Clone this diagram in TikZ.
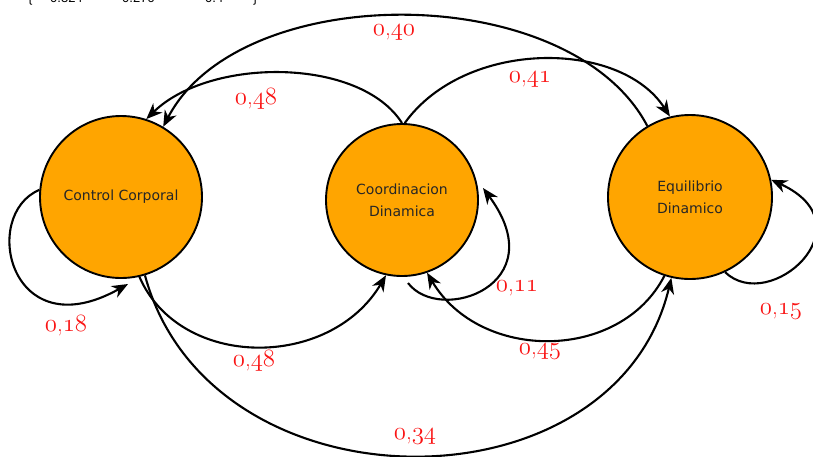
\documentclass[tikz,border=0pt]{standalone}
\usepackage{fontspec}
\usetikzlibrary{arrows.meta}
\newfontfamily\nodefont{DejaVu Sans}
\newfontfamily\topfont{Liberation Sans}
\definecolor{stateorange}{RGB}{255,165,0}
\definecolor{labelred}{RGB}{250,20,20}
\newcommand\osn[1]{$\mathnormal{#1}$}
\begin{document}
\begin{tikzpicture}[x=1pt,y=-1pt,
  state/.style={circle,draw=black,line width=1.9pt,fill=stateorange,inner sep=0pt,
    align=center,font=\nodefont\fontsize{14}{22}\selectfont,text=black!85},
  edge/.style={draw=black,line width=2.1pt,-{Stealth[length=16pt,width=13pt,inset=5pt]}},
  prob/.style={text=labelred,font=\fontsize{23}{23}\selectfont,inner sep=0pt},
  toptext/.style={font=\topfont\fontsize{13}{13}\selectfont,anchor=base west,inner sep=0pt}]
\useasboundingbox (0,0) rectangle (813,456);
\clip (0,0) rectangle (813,456);
% cropped text at the top edge
\node[toptext] (t0) at (28,2.5) {\{};
\node[toptext] (t1) at (50,2.5) {0.324};
\node[toptext] (t2) at (122,2.5) {0.276};
\node[toptext] (t3) at (205,2.5) {0.4};
\node[toptext] (t4) at (253,2.5) {\}};
% states
\node[state,minimum size=162pt] (cc) at (121,197) {Control Corporal};
\node[state,minimum size=152pt] (cd) at (402,200) {Coordinacion\\Dinamica};
\node[state,minimum size=164pt] (ed) at (690,197) {Equilibrio\\Dinamico};
% helper coordinates
\coordinate (s11) at (408,283);
\coordinate (e11) at (483,188);
\coordinate (e18) at (128,284);
% edges
\draw[edge] (ed.121) .. controls (570,-21) and (240,-21) .. (cc.59);
\draw[edge] (cd.90) .. controls (360,57) and (210,57) .. (cc.72);
\draw[edge] (cd.88) .. controls (465,39) and (620,39) .. (ed.104);
\draw[edge] (cc.175) .. controls (-20,215) and (10,350) .. (e18);
\draw[edge] (cc.-77) .. controls (180,370) and (330,370) .. (cd.-102);
\draw[edge] (cc.-73) .. controls (210,515) and (615,515) .. (ed.-103);
\draw[edge] (ed.-108) .. controls (620,362) and (480,362) .. (cd.-71);
\draw[edge] (s11) .. controls (440,325) and (555,285) .. (e11);
\draw[edge] (ed.-65) .. controls (770,315) and (870,225) .. (ed.12);
% probabilities
\node[prob] (p40) at (394,33) {\osn{0},\osn{40}};
\node[prob] (p41) at (530,80) {\osn{0},\osn{41}};
\node[prob] (p48a) at (256,99) {\osn{0},\osn{48}};
\node[prob] (p18) at (66,326) {\osn{0},\osn{18}};
\node[prob] (p48b) at (254,361) {\osn{0},\osn{48}};
\node[prob] (p11) at (517,288) {\osn{0},\osn{11}};
\node[prob] (p45) at (540,352) {\osn{0},\osn{45}};
\node[prob] (p15) at (781,312) {\osn{0},\osn{15}};
\node[prob] (p34) at (415,437) {\osn{0},\osn{34}};
\end{tikzpicture}
\end{document}
